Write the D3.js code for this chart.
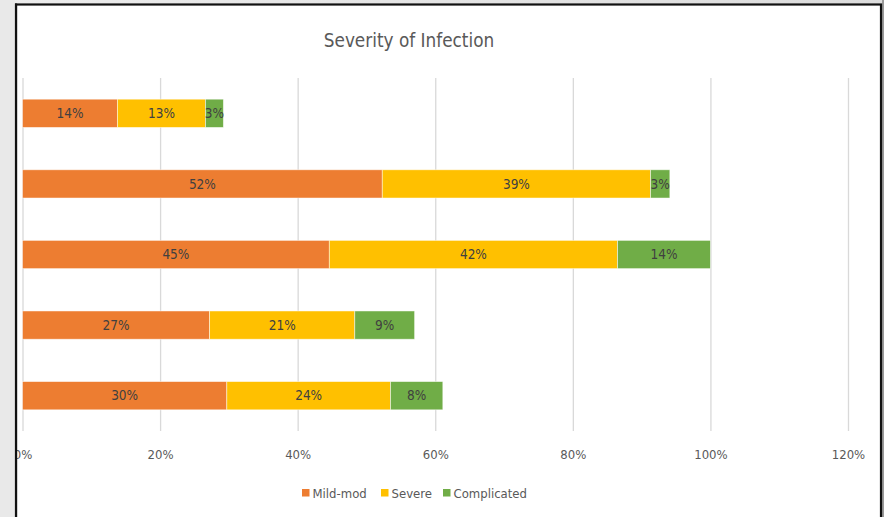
<!DOCTYPE html>
<html>
<head>
<meta charset="utf-8">
<script src="https://cdn.jsdelivr.net/npm/d3@7"></script>
<style>
  html, body { margin: 0; padding: 0; background: #e8e8e8; }
  svg { display: block; }
  text { font-family: "Liberation Sans Narrow", "DejaVu Sans Condensed", "Open Sans", sans-serif; }
</style>
</head>
<body>
<svg id="chart" width="884" height="517"></svg>
<script>
// Patient groups, top to bottom
const categories = ["Group A", "Group B", "Group C", "Group D", "Group E"];
const seriesNames = ["Mild-mod", "Severe", "Complicated"];
// Percent of patients in each severity class
const mildMod     = [13.8, 52.3, 44.6, 27.2, 29.7];
const severe      = [12.8, 39.0, 41.9, 21.1, 23.8];
const complicated = [2.6, 2.8, 13.5, 8.7, 7.6];
const tickValues  = [0, 20, 40, 60, 80, 100, 120];
const colors = ["#ED7D31", "#FFC000", "#70AD47"];

const svg = d3.select("#chart");
const W = 884, H = 517;

// page backdrop and framed chart panel
const bg = svg.append("defs").append("linearGradient").attr("id", "bg")
  .attr("x1", 0).attr("x2", 1).attr("y1", 0).attr("y2", 0);
bg.append("stop").attr("offset", 0).attr("stop-color", "#ececec");
bg.append("stop").attr("offset", 1).attr("stop-color", "#dcdcdc");
svg.append("rect").attr("width", W).attr("height", H).attr("fill", "url(#bg)");
svg.append("rect").attr("x", 882).attr("y", 0).attr("width", 2).attr("height", H).attr("fill", "#9a9a9a");
svg.append("rect").attr("x", 16).attr("y", 4.5).attr("width", 865).attr("height", H + 10)
  .attr("fill", "#ffffff").attr("stroke", "#111").attr("stroke-width", 2.2);

const rows = categories.map((c, i) => ({ cat: c, "Mild-mod": mildMod[i], "Severe": severe[i], "Complicated": complicated[i] }));
const stacked = d3.stack().keys(seriesNames)(rows);

const x = d3.scaleLinear().domain([0, 120]).range([22.5, 848]);
const y = d3.scaleBand().domain(categories).range([78, 431]).paddingInner(0.6).paddingOuter(0.3);

// vertical gridlines
const grid = svg.append("g").attr("transform", "translate(0,431)")
  .call(d3.axisBottom(x).tickValues(tickValues).tickSize(-353).tickFormat(""));
grid.select(".domain").remove();
grid.selectAll("line").attr("stroke", "#d9d9d9").attr("stroke-width", 1.3);

// tick labels
const axis = svg.append("g").attr("transform", "translate(0,431)")
  .call(d3.axisBottom(x).tickValues(tickValues).tickSize(0).tickPadding(19)
    .tickFormat(d => d3.format(".0%")(d / 100)));
axis.select(".domain").remove();
axis.selectAll("text").attr("fill", "#595959").style("font-size", "13px")
  .style("font-family", "\"Liberation Sans Narrow\", \"DejaVu Sans Condensed\", sans-serif");

// stacked bars
const layer = svg.append("g").selectAll("g").data(stacked).join("g")
  .attr("fill", (d, i) => colors[i]);
layer.selectAll("rect").data(d => d).join("rect")
  .attr("x", d => x(d[0]))
  .attr("y", d => y(d.data.cat))
  .attr("width", d => x(d[1]) - x(d[0]))
  .attr("height", y.bandwidth())
  .attr("stroke", "#ffffff").attr("stroke-opacity", 0.6).attr("stroke-width", 0.8);

// value labels
const lab = svg.append("g").selectAll("g").data(stacked).join("g");
lab.selectAll("text").data(d => d).join("text")
  .attr("x", d => (x(d[0]) + x(d[1])) / 2)
  .attr("y", d => y(d.data.cat) + y.bandwidth() / 2)
  .attr("dy", "0.35em")
  .attr("text-anchor", "middle")
  .attr("fill", "#404040")
  .style("font-size", "13.5px")
  .text(d => d3.format(".0%")((d[1] - d[0]) / 100));

// repaint the panel's left edge over the clipped 0% label
svg.append("rect").attr("x", 0).attr("y", 0).attr("width", 15).attr("height", H).attr("fill", "#e9e9e9");
svg.append("line").attr("x1", 16).attr("x2", 16).attr("y1", 3.4).attr("y2", H)
  .attr("stroke", "#111").attr("stroke-width", 2.2);

// title
svg.append("text").attr("x", 409).attr("y", 40).attr("dy", "0.35em")
  .attr("text-anchor", "middle").attr("fill", "#595959").style("font-size", "18.8px")
  .text("Severity of Infection");

// legend
const legendX = [302, 381, 443];
const leg = svg.append("g").selectAll("g").data(seriesNames).join("g")
  .attr("transform", (d, i) => `translate(${legendX[i]},493)`);
leg.append("rect").attr("x", 0).attr("y", -4).attr("width", 7.5).attr("height", 7.5)
  .attr("fill", (d, i) => colors[i]);
leg.append("text").attr("x", 10.5).attr("y", 0).attr("dy", "0.35em")
  .attr("fill", "#595959").style("font-size", "13px").text(d => d);
</script>
</body>
</html>
